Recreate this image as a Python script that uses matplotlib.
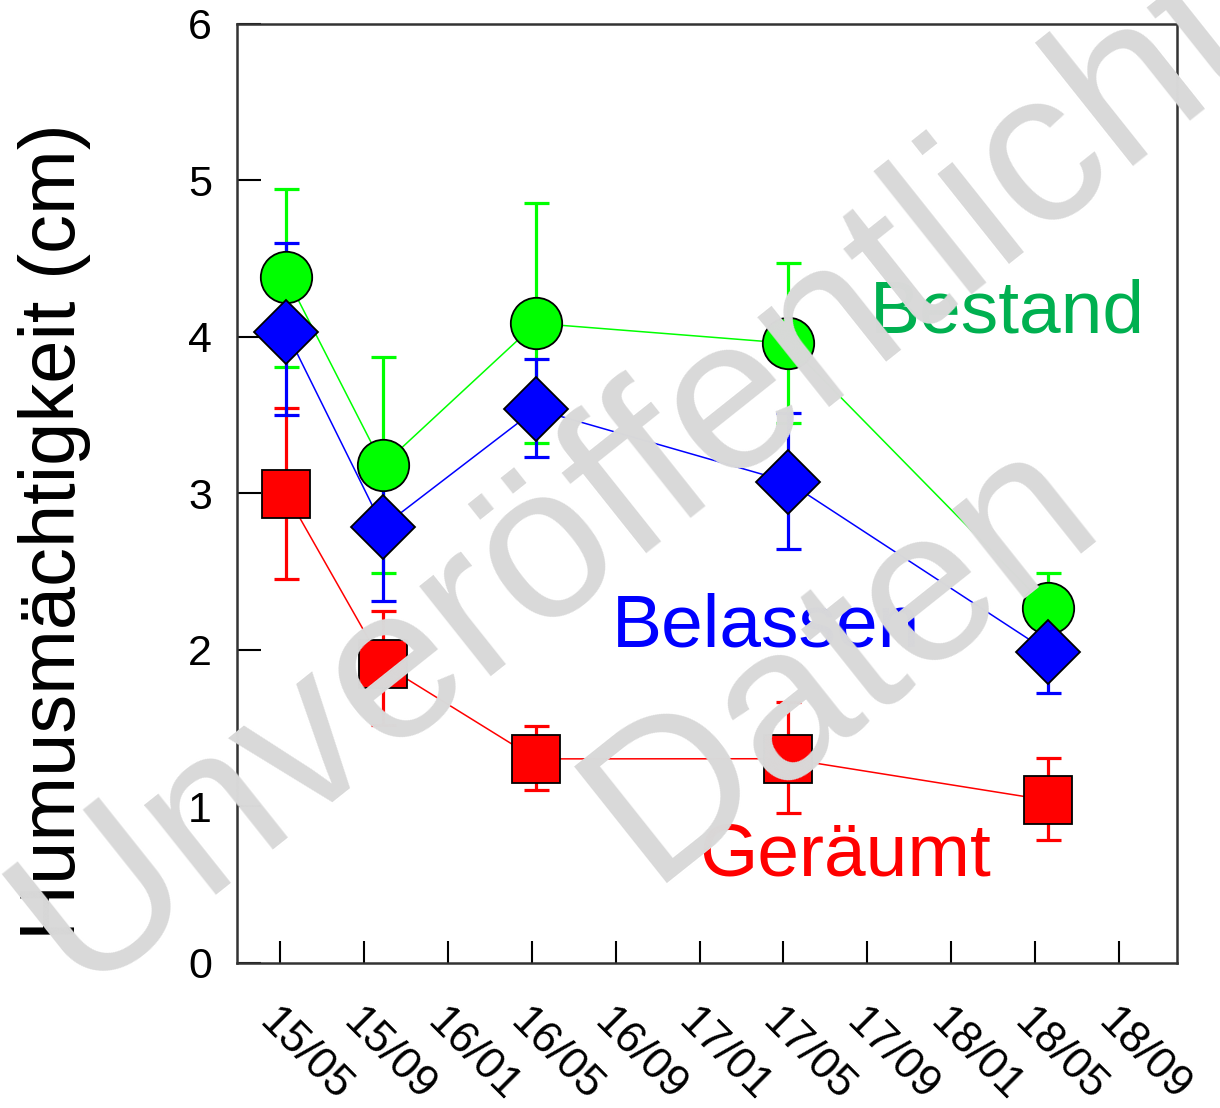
import numpy as np
import matplotlib
matplotlib.use("Agg")
import matplotlib.pyplot as plt

plt.rcParams['font.family'] = ['Liberation Sans', 'DejaVu Sans']

# Monate seit Mai 2015
x_tage = [0.3, 4.9, 12.2, 24.2, 36.6]
tick_pos = [0, 4, 8, 12, 16, 20, 24, 28, 32, 36, 40]
tick_labels = ["15/05", "15/09", "16/01", "16/05", "16/09", "17/01",
               "17/05", "17/09", "18/01", "18/05", "18/09"]

# Bestand (grün)
bestand = [4.385, 3.18, 4.087, 3.96, 2.268]
bestand_lo = [3.81, 2.49, 3.32, 3.449, 2.05]
bestand_hi = [4.946, 3.874, 4.854, 4.471, 2.49]

# Belassen (blau)
belassen = [4.034, 2.788, 3.538, 3.076, 1.99]
belassen_lo = [3.50, 2.315, 3.235, 2.645, 1.727]
belassen_hi = [4.603, 3.26, 3.859, 3.512, 2.25]

# Geräumt (rot)
geraeumt = [2.995, 1.91, 1.304, 1.305, 1.04]
geraeumt_lo = [2.456, 1.52, 1.105, 0.96, 0.786]
geraeumt_hi = [3.547, 2.25, 1.516, 1.67, 1.31]

fig = plt.figure(figsize=(12.2, 11.08), dpi=100)
ax = fig.add_axes([0.1943, 0.1309, 0.7705, 0.8475])

serien = [
    (geraeumt, geraeumt_lo, geraeumt_hi, "#ff0000", "s", 34),
    (bestand, bestand_lo, bestand_hi, "#00ff00", "o", 37),
    (belassen, belassen_lo, belassen_hi, "#0000ff", "D", 33),
]

for werte, lo, hi, farbe, marker, ms in serien:
    werte = np.array(werte)
    yerr = [werte - np.array(lo), np.array(hi) - werte]
    ax.errorbar(x_tage, werte, yerr=yerr, fmt="none", ecolor=farbe,
                elinewidth=2.3, capsize=9, capthick=2.3, zorder=2)
    ax.plot(x_tage, werte, color=farbe, lw=1.1, zorder=2)

for werte, lo, hi, farbe, marker, ms in serien:
    ax.plot(x_tage, werte, linestyle="none", marker=marker, markersize=ms,
            markerfacecolor=farbe, markeredgecolor="black",
            markeredgewidth=1.3, zorder=3)

ax.text(28.1, 4.03, "Bestand", color="#00b050", fontsize=54, va="baseline")
ax.text(15.8, 2.02, "Belassen", color="#0000ff", fontsize=54, va="baseline")
ax.text(20.0, 0.56, "Geräumt", color="#ff0000", fontsize=54, va="baseline")

ax.set_xlim(-2.05, 42.77)
ax.set_ylim(0, 6)
ax.set_yticks(range(7))
ax.set_xticks(tick_pos)
ax.set_xticklabels(tick_labels, rotation=-45, ha="left", va="top",
                   rotation_mode="anchor")
ax.tick_params(axis="x", direction="in", length=16, width=1.5,
               labelsize=32, pad=28)
ax.tick_params(axis="y", direction="in", length=17, width=1.5,
               labelsize=31, pad=18)
for s in ax.spines.values():
    s.set_linewidth(1.8)
    s.set_color("#333333")

fig.text(0.045, 0.52, "Humusmächtigkeit (cm)", rotation=90, fontsize=56,
         ha="center", va="center")

# Wasserzeichen, zwei Zeilen
wz = dict(rotation=38.5, fontsize=157, color="#d9d9d9", ha="center",
          va="center", rotation_mode="anchor", zorder=10)
fig.text(0.5197, 0.5695, "Unveröffentlicht", **wz)
fig.text(0.690, 0.406, "Daten", **wz)

fig.savefig("out.png", dpi=100)
